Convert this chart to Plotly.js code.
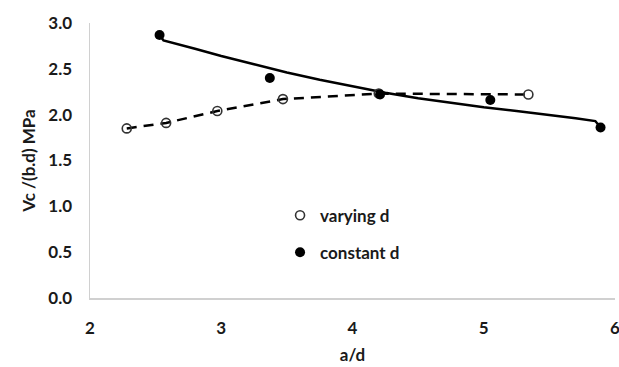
<!DOCTYPE html>
<html>
<head>
<meta charset="utf-8">
<script src="https://cdn.plot.ly/plotly-3.0.1.min.js"></script>
<style>html,body{margin:0;padding:0;background:#fff;}#chart{width:619px;height:367px;}</style>
</head>
<body>
<div id="chart"></div>
<script>
// Data
var varyingX = [2.28, 2.58, 2.97, 3.47, 4.20, 5.34];
var varyingY = [1.85, 1.91, 2.04, 2.17, 2.23, 2.22];
var constantX = [2.53, 3.37, 4.21, 5.05, 5.89];
var constantY = [2.87, 2.40, 2.22, 2.16, 1.86];
// Fitted trend curve for "constant d"
var trendX = [2.53, 2.56, 2.8, 3.0, 3.25, 3.5, 3.75, 4.0, 4.25, 4.5, 4.75, 5.0, 5.25, 5.5, 5.7, 5.85, 5.89];
var trendY = [2.87, 2.81, 2.72, 2.64, 2.55, 2.46, 2.38, 2.31, 2.24, 2.18, 2.13, 2.08, 2.04, 2.00, 1.96, 1.93, 1.86];
var legendNames = ["varying d", "constant d"];
var xTicks = [2, 3, 4, 5, 6];
var yTicks = [0, 0.5, 1, 1.5, 2, 2.5, 3];

var FONT = "Lato, 'Open Sans', sans-serif";
var traces = [
  {x: varyingX, y: varyingY, mode: "lines", showlegend: false, hoverinfo: "skip",
   line: {color: "#000", width: 2.5, dash: "10px,7px"}},
  {x: trendX, y: trendY, mode: "lines", showlegend: false, hoverinfo: "skip",
   line: {color: "#000", width: 2.5}},
  {x: varyingX, y: varyingY, mode: "markers", name: legendNames[0], legendgroup: "a",
   marker: {symbol: "circle-open", size: 9, color: "#333", line: {width: 1.6, color: "#333"}}},
  {x: constantX, y: constantY, mode: "markers", name: legendNames[1], legendgroup: "b",
   marker: {symbol: "circle", size: 10, color: "#000"}}
];
var layout = {
  width: 619, height: 367,
  margin: {l: 90, r: 4, t: 23, b: 69},
  paper_bgcolor: "#fff", plot_bgcolor: "#fff",
  font: {family: FONT, size: 17, color: "#1a1a1a", weight: "bold"},
  showlegend: true,
  legend: {x: 0.362, y: 0.365, xanchor: "left", yanchor: "top", bgcolor: "rgba(0,0,0,0)",
           font: {family: FONT, size: 17, color: "#1a1a1a", weight: "bold"},
           tracegroupgap: 12, itemwidth: 30},
  xaxis: {range: [2, 6], tickvals: xTicks, ticks: "", showgrid: false, zeroline: false,
          ticklabeloverflow: "allow",
          showline: true, linecolor: "#d0d0d0", linewidth: 1.5, ticklabelstandoff: 14,
          tickfont: {family: FONT, size: 17, weight: "bold", color: "#1a1a1a"},
          title: {text: "a/d", standoff: 12, font: {family: FONT, size: 17, weight: "bold", color: "#1a1a1a"}}},
  yaxis: {range: [0, 3], tickvals: yTicks, tickformat: ".1f", ticks: "", showgrid: false, zeroline: false,
          ticklabeloverflow: "allow",
          showline: true, linecolor: "#d0d0d0", linewidth: 1.5, ticklabelstandoff: 13,
          tickfont: {family: FONT, size: 17, weight: "bold", color: "#1a1a1a"},
          title: {text: "Vc /(b.d) MPa", standoff: 8, font: {family: FONT, size: 17, weight: "bold", color: "#1a1a1a"}}}
};
Plotly.newPlot("chart", traces, layout, {displayModeBar: false, staticPlot: true});
</script>
</body>
</html>
